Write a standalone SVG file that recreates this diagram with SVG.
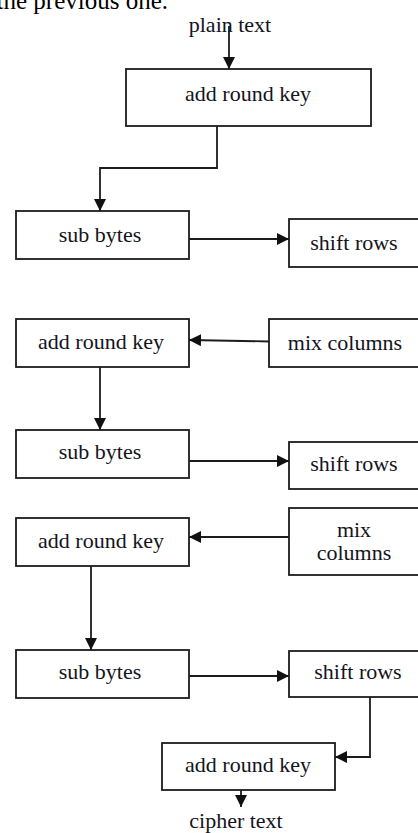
<svg xmlns="http://www.w3.org/2000/svg" width="418" height="833" viewBox="0 0 418 833">
  <style>
    .box { fill: #ffffff; stroke: #1c1c1c; stroke-width: 1.8; }
    .lbl { font-family: "Liberation Serif", "Times New Roman", serif; font-size: 22px; fill: #14141c; text-anchor: middle; }
    .edge { fill: none; stroke: #1c1c1c; stroke-width: 1.8; marker-end: url(#arrow); }
    .body { font-family: "Liberation Serif", "Times New Roman", serif; font-size: 25px; fill: #000000; text-anchor: end; }
  </style>
  <defs>
    <marker id="arrow" markerUnits="userSpaceOnUse" markerWidth="13" markerHeight="12" refX="12" refY="6" orient="auto">
      <path d="M0,0 L12,6 L0,12 Z" fill="#111111"/>
    </marker>
  </defs>
  <rect width="418" height="833" fill="#ffffff"/>

  <!-- tail of the preceding paragraph -->
  <text class="body" x="168" y="8.5">the previous one.</text>

  <!-- terminals -->
  <g id="plain-text"><text class="lbl" x="230" y="32">plain text</text></g>
  <g id="cipher-text"><text class="lbl" x="236" y="828">cipher text</text></g>

  <!-- initial round -->
  <g id="ark0"><rect class="box" x="126" y="69" width="245" height="57"/><text class="lbl" x="248" y="101">add round key</text></g>

  <!-- round 1 -->
  <g id="sb1"><rect class="box" x="16" y="211" width="173" height="48"/><text class="lbl" x="100" y="242">sub bytes</text></g>
  <g id="sr1"><rect class="box" x="289" y="219" width="140" height="48"/><text class="lbl" x="354" y="250">shift rows</text></g>
  <g id="mc1"><rect class="box" x="269" y="319" width="160" height="48"/><text class="lbl" x="345" y="350">mix columns</text></g>
  <g id="ark1"><rect class="box" x="16" y="319" width="173" height="48"/><text class="lbl" x="101" y="349">add round key</text></g>

  <!-- round 2 -->
  <g id="sb2"><rect class="box" x="16" y="430" width="173" height="48"/><text class="lbl" x="100" y="459">sub bytes</text></g>
  <g id="sr2"><rect class="box" x="289" y="442" width="140" height="47"/><text class="lbl" x="354" y="471">shift rows</text></g>
  <g id="mc2"><rect class="box" x="289" y="508" width="140" height="67"/><text class="lbl" x="354" y="537">mix</text><text class="lbl" x="354" y="560">columns</text></g>
  <g id="ark2"><rect class="box" x="16" y="518" width="173" height="48"/><text class="lbl" x="101" y="548">add round key</text></g>

  <!-- final round -->
  <g id="sb3"><rect class="box" x="16" y="650" width="173" height="48"/><text class="lbl" x="100" y="679">sub bytes</text></g>
  <g id="sr3"><rect class="box" x="289" y="651" width="140" height="46"/><text class="lbl" x="358" y="679">shift rows</text></g>
  <g id="ark3"><rect class="box" x="162" y="743" width="173" height="47"/><text class="lbl" x="248" y="772">add round key</text></g>

  <!-- connectors -->
  <g id="connectors">
    <path class="edge" d="M229,26 L229,69"/>
    <path class="edge" d="M217,126 L217,168 L100,168 L100,211"/>
    <path class="edge" d="M189,239 L289,239"/>
    <path class="edge" d="M269,341.5 L189,340"/>
    <path class="edge" d="M100,367 L100,430"/>
    <path class="edge" d="M189,461 L289,461"/>
    <path class="edge" d="M289,537 L189,537"/>
    <path class="edge" d="M91,566 L91,650"/>
    <path class="edge" d="M189,676 L289,676"/>
    <path class="edge" d="M370,697 L370,757 L335,757"/>
    <path class="edge" d="M241,790 L241,807"/>
  </g>
</svg>
